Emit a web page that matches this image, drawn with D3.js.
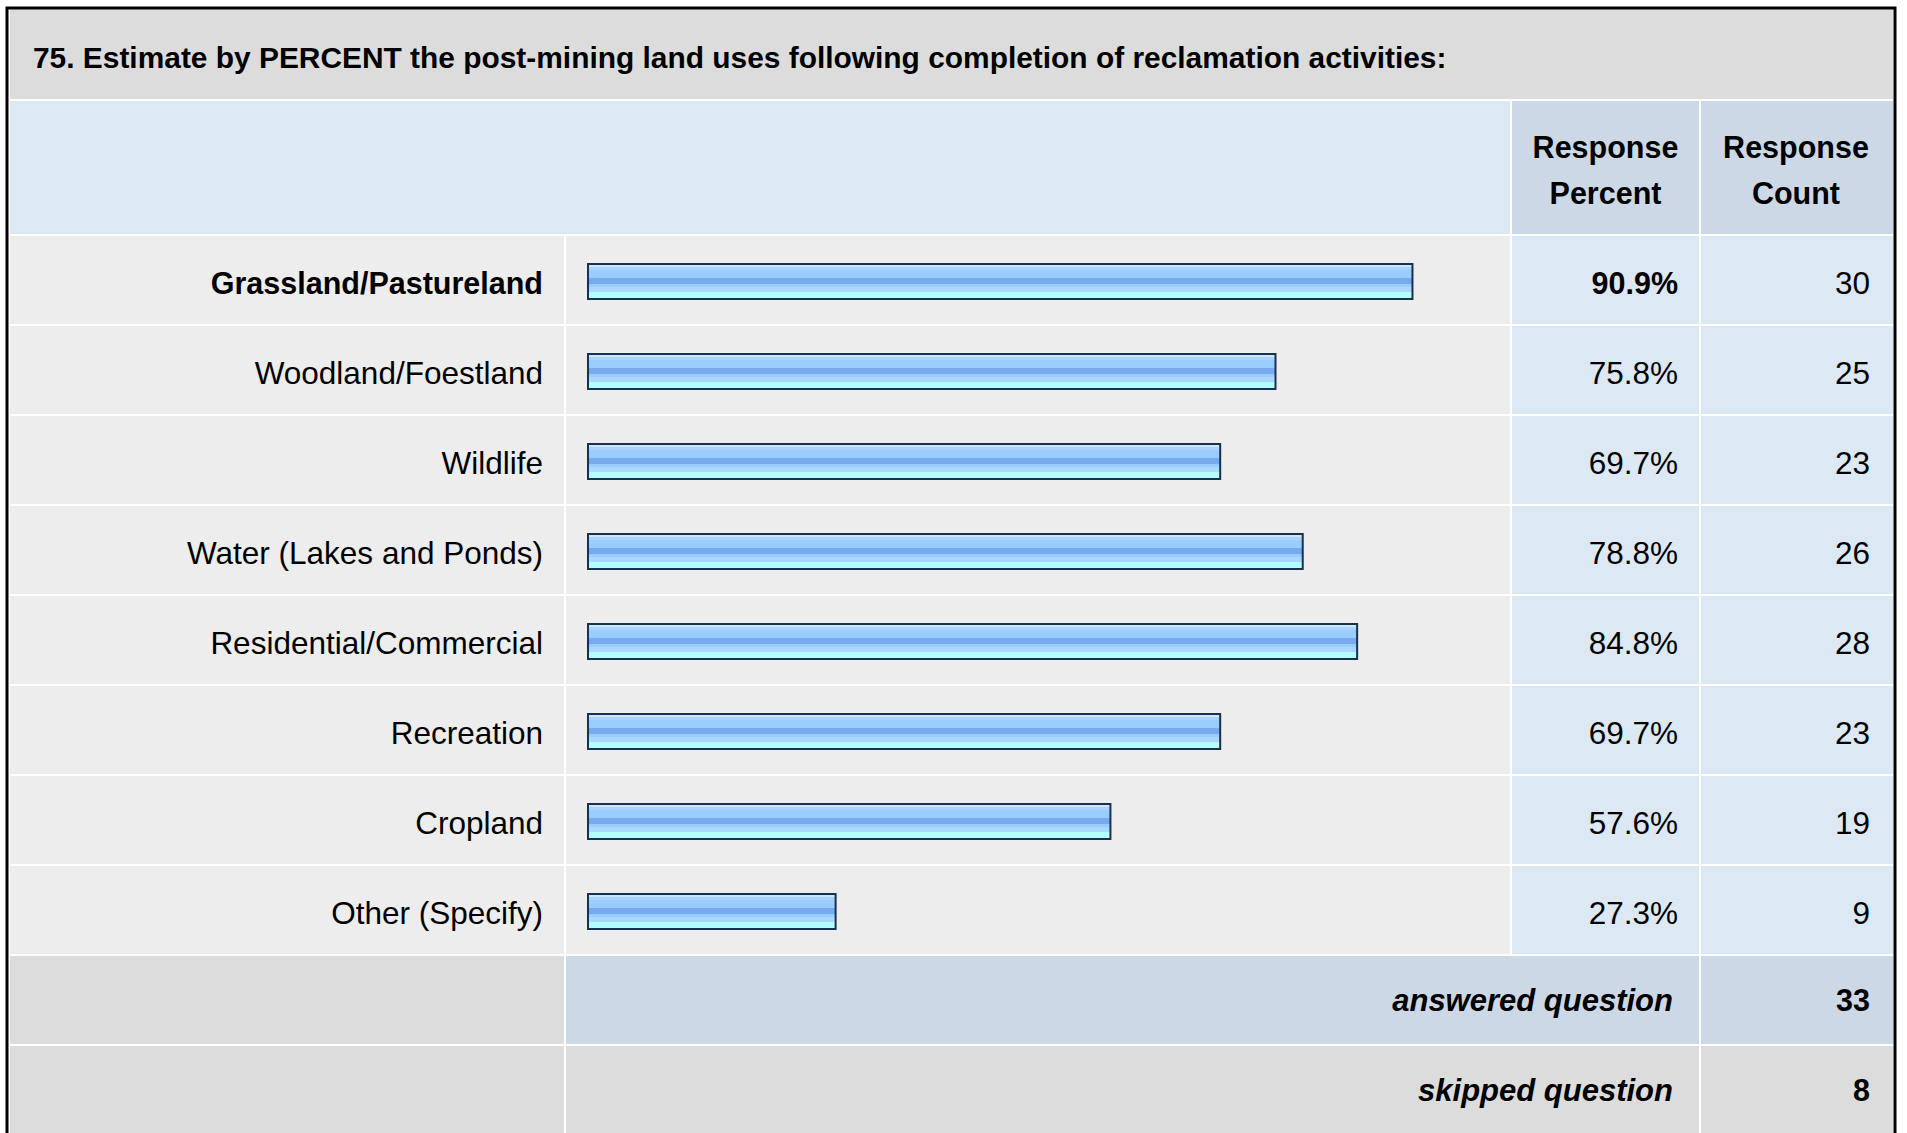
<!DOCTYPE html>
<html>
<head>
<meta charset="utf-8">
<script src="https://cdn.jsdelivr.net/npm/d3@7"></script>
<style>
  body { margin: 0; background: #fff; }
  text { font-family: "Liberation Sans", Arial, sans-serif; fill: #000; }
</style>
</head>
<body>
<div id="chart"></div>
<script>
var question = "75. Estimate by PERCENT the post-mining land uses following completion of reclamation activities:";
var categories = ["Grassland/Pastureland", "Woodland/Foestland", "Wildlife", "Water (Lakes and Ponds)",
    "Residential/Commercial", "Recreation", "Cropland", "Other (Specify)"];
var percents = [90.9, 75.8, 69.7, 78.8, 84.8, 69.7, 57.6, 27.3];
var counts = [30, 25, 23, 26, 28, 23, 19, 9];
var headers = [["Response", "Percent"], ["Response", "Count"]];
var answered = 33, skipped = 8;

var width = 1907, height = 1133,
    fontSize = 31.5,
    boldSize = 30.5,
    gap = 2;

// column edges (label | bar | percent | count)
var cols = [10, 566, 1512, 1701, 1893];
var rowTop = 236, rowH = 90;

var svg = d3.select("#chart").append("svg")
    .attr("width", width)
    .attr("height", height);

var defs = svg.append("defs");
var grad = defs.append("linearGradient")
    .attr("id", "barGrad")
    .attr("x1", 0).attr("y1", 0).attr("x2", 0).attr("y2", 1);
// banded shading like the original image bars
var bands = [[0, "#cce6ff"], [0.08, "#cce6ff"], [0.08, "#aad4ff"], [0.17, "#aad4ff"], [0.17, "#99ccff"],
    [0.4, "#99ccff"], [0.4, "#77aaee"], [0.57, "#77aaee"], [0.57, "#99ccff"], [0.67, "#99ccff"],
    [0.67, "#aad8ff"], [0.79, "#aad8ff"], [0.79, "#b3ffff"], [1, "#b3ffff"]];
grad.selectAll("stop").data(bands).enter().append("stop")
    .attr("offset", function(d) { return d[0]; })
    .attr("stop-color", function(d) { return d[1]; });

var y = d3.scaleBand()
    .domain(categories)
    .range([rowTop, rowTop + rowH * categories.length]);

var x = d3.scaleLinear()
    .domain([0, 100])
    .range([588, 1495]);

var maxPct = d3.max(percents);

function cell(x0, x1, y0, y1, fill) {
    svg.append("rect")
        .attr("x", x0).attr("y", y0)
        .attr("width", x1 - x0 - gap).attr("height", y1 - y0 - gap)
        .style("fill", fill);
}

function isTop(i) { return percents[i] === maxPct; }

// title row
cell(cols[0], cols[4] + gap, 9, 101, "#dcdcdc");
svg.append("text")
    .attr("x", 33).attr("y", 68)
    .style("font-size", "29.9px")
    .style("font-weight", "bold")
    .text(question);

// header row
cell(cols[0], cols[2], 101, rowTop, "#dde8f5");
cell(cols[2], cols[3], 101, rowTop, "#ccd8e6");
cell(cols[3], cols[4] + gap, 101, rowTop, "#ccd8e6");
headers.forEach(function(h, i) {
    var cx = (cols[i + 2] + cols[i + 3] - gap) / 2;
    h.forEach(function(line, j) {
        svg.append("text")
            .attr("x", cx).attr("y", 158 + j * 46)
            .style("text-anchor", "middle")
            .style("font-size", boldSize + "px")
            .style("font-weight", "bold")
            .text(line);
    });
});

// data rows
var rows = svg.selectAll(".row")
    .data(categories)
    .enter().append("g")
    .attr("class", "row")
    .attr("transform", function(d) { return "translate(0," + y(d) + ")"; });

rows.append("rect").attr("x", cols[0]).attr("width", cols[1] - cols[0] - gap)
    .attr("height", y.bandwidth() - gap).style("fill", "#ededed");
rows.append("rect").attr("x", cols[1]).attr("width", cols[2] - cols[1] - gap)
    .attr("height", y.bandwidth() - gap).style("fill", "#ededed");
rows.append("rect").attr("x", cols[2]).attr("width", cols[3] - cols[2] - gap)
    .attr("height", y.bandwidth() - gap).style("fill", "#dde8f5");
rows.append("rect").attr("x", cols[3]).attr("width", cols[4] - cols[3])
    .attr("height", y.bandwidth() - gap).style("fill", "#dde8f5");

rows.append("rect")
    .attr("class", "bar")
    .attr("x", x(0))
    .attr("y", 28)
    .attr("width", function(d, i) { return x(percents[i]) - x(0); })
    .attr("height", 35)
    .style("fill", "url(#barGrad)")
    .style("stroke", "#1a3050")
    .style("stroke-width", 2);

rows.append("text")
    .attr("x", 543).attr("y", 58)
    .style("text-anchor", "end")
    .style("font-size", function(d, i) { return (isTop(i) ? boldSize : fontSize) + "px"; })
    .style("font-weight", function(d, i) { return isTop(i) ? "bold" : "normal"; })
    .text(function(d) { return d; });

rows.append("text")
    .attr("x", 1678).attr("y", 58)
    .style("text-anchor", "end")
    .style("font-size", function(d, i) { return (isTop(i) ? boldSize : fontSize) + "px"; })
    .style("font-weight", function(d, i) { return isTop(i) ? "bold" : "normal"; })
    .text(function(d, i) { return percents[i].toFixed(1) + "%"; });

rows.append("text")
    .attr("x", 1870).attr("y", 58)
    .style("text-anchor", "end")
    .style("font-size", fontSize + "px")
    .text(function(d, i) { return counts[i]; });

// summary rows
var sumTop = rowTop + rowH * categories.length;
var summary = [["answered question", answered, "#ccd8e6"], ["skipped question", skipped, "#dcdcdc"]];
summary.forEach(function(s, i) {
    var y0 = sumTop + i * rowH;
    cell(cols[0], cols[1], y0, y0 + rowH, "#dcdcdc");
    cell(cols[1], cols[3], y0, y0 + rowH, s[2]);
    cell(cols[3], cols[4] + gap, y0, y0 + rowH, s[2]);
    svg.append("text")
        .attr("x", 1673).attr("y", y0 + 55)
        .style("text-anchor", "end")
        .style("font-size", "31px")
        .style("font-weight", "bold")
        .style("font-style", "italic")
        .text(s[0]);
    svg.append("text")
        .attr("x", 1870).attr("y", y0 + 55)
        .style("text-anchor", "end")
        .style("font-size", boldSize + "px")
        .style("font-weight", "bold")
        .text(s[1]);
});

// outer frame
svg.append("rect")
    .attr("x", 7).attr("y", 8)
    .attr("width", 1888).attr("height", 1140)
    .style("fill", "none")
    .style("stroke", "#000")
    .style("stroke-width", 3);
</script>
</body>
</html>
